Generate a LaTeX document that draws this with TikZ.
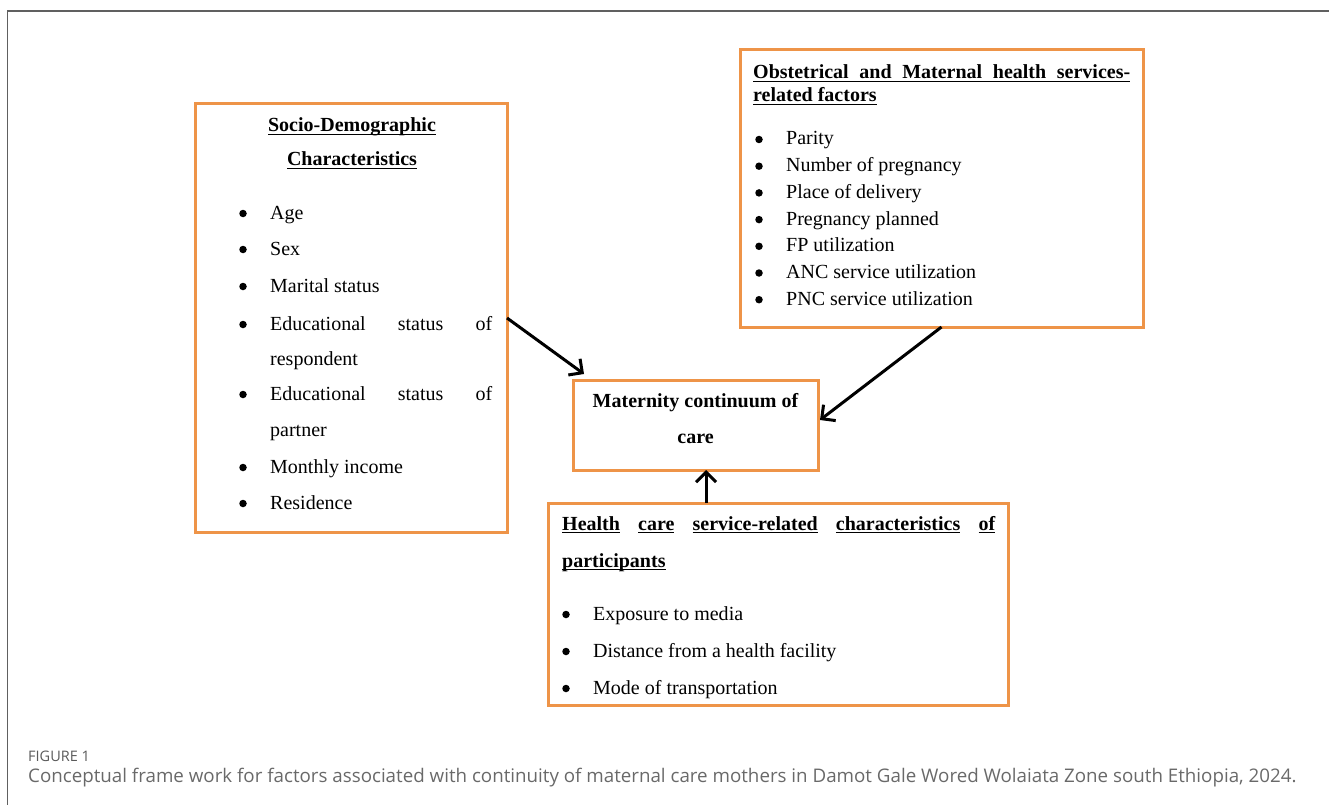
\documentclass[tikz,border=0pt]{standalone}
\usepackage{fontspec}
\setmainfont{Liberation Serif}
\newfontfamily\capfont{Open Sans}
\usetikzlibrary{positioning,arrows.meta}
\definecolor{boxorange}{RGB}{238,148,72}
\definecolor{framegray}{RGB}{96,96,96}
\definecolor{capgray}{RGB}{105,105,105}
\newcommand{\ulin}[1]{\setbox0\hbox{#1}\rlap{\rule[-3.2pt]{\wd0}{1.3pt}}\box0}

\begin{document}
\begin{tikzpicture}[x=1pt,y=-1pt,
  box/.style={draw=boxorange,line width=3pt,anchor=north west,inner sep=0pt,outer sep=0pt},
  line/.style={anchor=base west,inner sep=0pt,font=\fontsize{20}{24}\selectfont},
  head/.style={anchor=base,inner sep=0pt,font=\fontsize{20}{24}\selectfont\bfseries},
  dot/.style={circle,fill,inner sep=0pt,minimum size=7.5pt},
  link/.style={line width=3pt,-{Straight Barb[length=10pt,width=20pt,line width=3pt]}}]
  \useasboundingbox (0,0) rectangle (1329,805);
  % frame of the figure
  \draw[framegray,line width=1.2pt] (1329,11) -- (7.5,11) -- (7.5,805);

  % the four boxes
  \node[box,minimum width=312,minimum height=428] (socio) at (195,104) {};
  \node[box,minimum width=403,minimum height=277] (obst) at (740,50) {};
  \node[box,minimum width=245,minimum height=90] (care) at (573,380) {};
  \node[box,minimum width=460,minimum height=202] (hcs) at (548,503) {};

  % socio-demographic
  \node[head] (sociot1) at (352,132) {\ulin{Socio-Demographic}};
  \node[head] (sociot2) at (352,166) {\ulin{Characteristics}};
  \foreach \y/\t in {219/Age,255/Sex,292/Marital status,
      330/{\hbox to 222pt{Educational\hfill status\hfill of}},
      400/{\hbox to 222pt{Educational\hfill status\hfill of}},
      473/Monthly income,509/Residence}{
    \node[dot] at (243,\y-5.5) {};
    \node[line] at (270,\y) {\t};
  }
  \node[line] at (270,365) {respondent};
  \node[line] at (270,436) {partner};

  % obstetrical
  \node[head,anchor=base west] (obstt1) at (753,79)
    {\ulin{\hbox to 377pt{Obstetrical\hfill and\hfill Maternal\hfill health\hfill services-}}};
  \node[head,anchor=base west] (obstt2) at (753,102) {\ulin{related factors}};
  \foreach \t [count=\i from 0] in {Parity,Number of pregnancy,Place of delivery,
      Pregnancy planned,FP utilization,ANC service utilization,PNC service utilization}{
    \node[dot] at (759,139.5+26.7*\i) {};
    \node[line] at (786,145+26.7*\i) {\t};
  }

  % outcome
  \node[head] (caret1) at (care.center |- 0,407) {Maternity continuum of};
  \node[head] (caret2) at (care.center |- 0,443) {care};

  % health care service
  \node[head,anchor=base west] (hcst1) at (562,530)
    {\hbox to 433pt{\ulin{Health}\hfill\ulin{care}\hfill\ulin{service-related}\hfill
     \ulin{characteristics}\hfill\ulin{of}}};
  \node[head,anchor=base west] (hcst2) at (562,567) {\ulin{participants}};
  \foreach \t [count=\i from 0] in {Exposure to media,Distance from a health facility,
      Mode of transportation}{
    \node[dot] at (566,614.5+37*\i) {};
    \node[line] at (593,620+37*\i) {\t};
  }

  % arrows
  \draw[link] (socio.east) -- ([xshift=11pt,yshift=6pt]care.north west);
  \draw[link] (obst.south) -- ([xshift=2pt,yshift=5pt]care.east);
  \draw[link] ([xshift=10.5pt]care.south |- hcs.north) -- ([xshift=10.5pt]care.south);

  % caption
  \node[anchor=base west,inner sep=0pt,text=capgray!110,font=\capfont\fontsize{14.5}{17}\selectfont]
    (fig) at (28,761) {FIGURE 1};
  \node[anchor=base west,inner sep=0pt,text=capgray,font=\capfont\fontsize{18.75}{22}\selectfont]
    (cap) at (28,782) {Conceptual frame work for factors associated with continuity of maternal care mothers in Damot Gale Wored Wolaiata Zone south Ethiopia, 2024.};
\end{tikzpicture}
\end{document}
